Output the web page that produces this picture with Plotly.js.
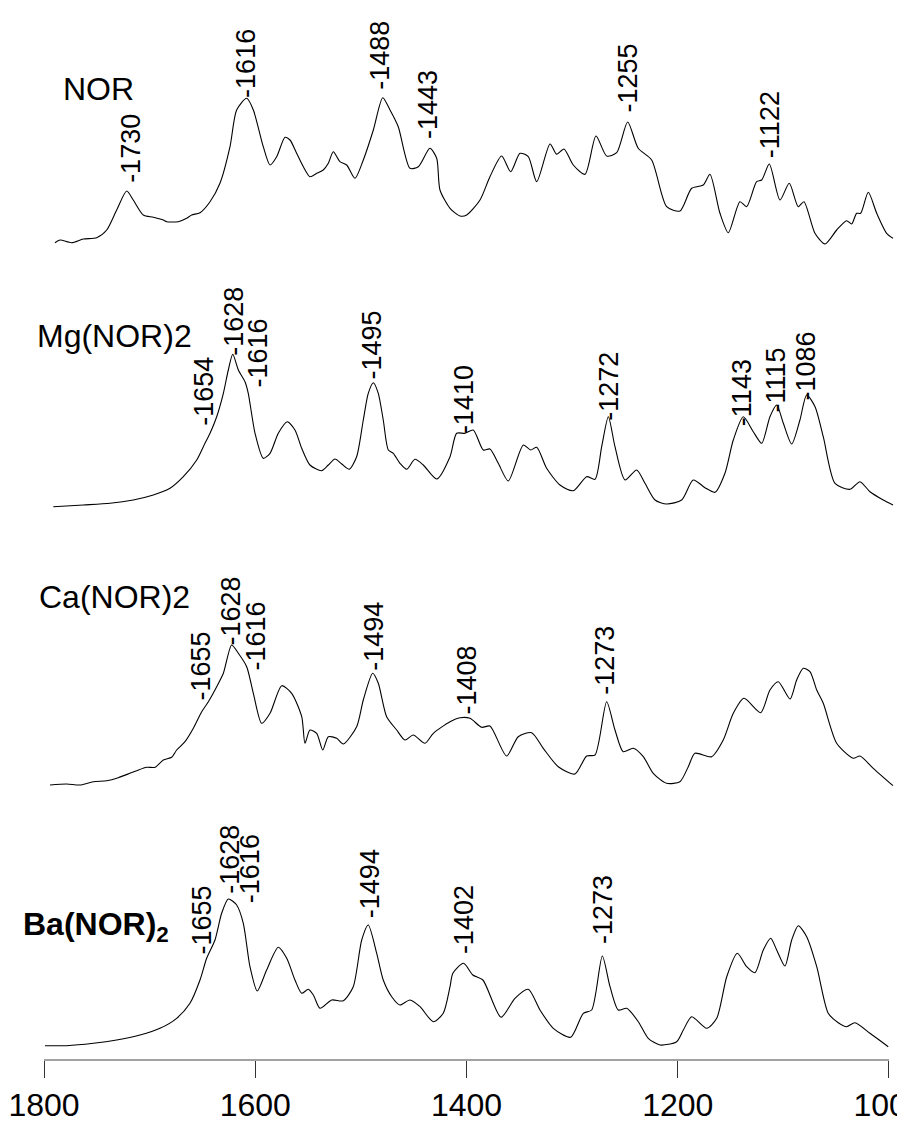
<!DOCTYPE html>
<html>
<head>
<meta charset="utf-8">
<script src="https://cdn.plot.ly/plotly-3.0.1.min.js"></script>
<style>
html,body{margin:0;padding:0;background:#fff;}
#chart{width:897px;height:1127px;}
</style>
</head>
<body>
<div id="chart"></div>
<script>
// ---- Data (wavenumber, cm-1 ; relative intensity, a.u.) ----
const norWn = [1789.6,1784.9,1773.8,1762.8,1750.1,1740.6,1731.2,1721.7,1715.5,1706.0,1696.5,1687.1,1683.9,1672.9,1664.9,1660.2,1652.3,1642.8,1633.4,1623.9,1617.6,1608.1,1601.8,1592.4,1586.0,1579.7,1571.8,1567.1,1560.8,1554.5,1548.2,1541.8,1535.6,1530.8,1526.1,1519.8,1513.4,1505.6,1497.7,1488.2,1479.3,1472.4,1464.6,1453.5,1445.6,1434.6,1428.2,1425.1,1415.6,1406.1,1399.8,1387.2,1377.8,1366.7,1358.2,1349.3,1341.5,1333.5,1320.9,1314.6,1307.7,1298.9,1287.8,1277.4,1267.3,1257.8,1247.4,1237.4,1224.7,1210.5,1197.9,1186.8,1175.8,1169.5,1160.0,1152.1,1141.1,1134.8,1125.3,1120.5,1113.3,1103.2,1094.4,1085.9,1080.5,1070.1,1060.6,1049.5,1040.1,1035.3,1030.6,1026.8,1019.6,1011.6,1002.2,996.2];
const norInt = [2.3,5,2.3,6,7.3,15,35,54,45,30,27.7,25,23.3,23.3,26.7,30,32.3,43.3,61.7,98.3,135,146.7,135,98.3,80,88.3,107.7,105,91.7,78.3,68.3,71.7,75,81.7,93.3,83.3,80,66.7,85,115,147.3,135,118.3,76.7,78.3,96.7,86.7,55,36.7,29,30,45,68.3,89,73.3,91.7,88.3,63.3,101,90.7,96,80,70.7,109,89,92.3,123,96.7,85,38.3,34,56.7,60,70.7,31.7,12.3,43.3,38.3,63.3,65,81,45,61.7,38.3,43.3,11.7,1,15,24.3,21,31.7,31.7,52.7,31.7,11.7,6.7];

const mgWn = [1791.2,1762.8,1737.5,1715.5,1696.5,1680.7,1668.1,1655.4,1647.6,1642.8,1636.5,1630.2,1625.5,1621.3,1616.0,1609.7,1606.6,1600.2,1592.4,1586.0,1578.2,1569.7,1562.4,1556.0,1548.2,1537.1,1530.8,1524.5,1518.1,1511.0,1504.0,1497.7,1493.0,1488.2,1483.5,1478.8,1474.0,1469.3,1463.0,1456.6,1448.8,1440.9,1428.2,1415.6,1409.3,1401.4,1393.6,1384.1,1377.8,1369.9,1360.4,1346.2,1339.2,1333.5,1324.1,1311.5,1298.9,1286.2,1278.3,1272.0,1265.7,1259.4,1249.9,1238.9,1231.0,1221.5,1210.5,1196.3,1185.3,1174.2,1164.7,1155.3,1147.4,1137.9,1128.5,1120.5,1112.7,1106.3,1100.0,1092.1,1084.3,1077.9,1070.0,1062.2,1051.1,1036.9,1027.5,1018.0,1005.4,996.2];
const mgInt = [3.3,5,6.7,10,15,21.7,33.3,50,66.7,76.7,93.3,116.7,140,155.7,140,128.3,116.7,76.7,51.7,56.7,76.7,88.3,80,61.7,45,39.3,45,51,46,40.7,53.3,90,116.7,127.3,116.7,90,60,56.7,46.7,40.7,50.7,45,31,53.3,76.7,76.7,80,60,61,46.7,29,65,60,62.7,41.7,25,19.3,33.3,30.7,63.3,93.3,63.3,30,40,26.7,10,6,10,30,22.3,17.7,36.7,70,93.3,78.3,66.7,93.3,105,86.7,66,90,115,103.3,73.3,26.7,20.7,28.3,18.3,10,5];

const caWn = [1794.3,1778.5,1765.9,1753.3,1740.6,1729.7,1718.6,1712.2,1702.8,1694.9,1687.0,1679.1,1674.4,1666.5,1658.6,1650.7,1644.4,1636.5,1630.2,1622.3,1616.0,1608.1,1601.8,1593.9,1586.0,1574.9,1565.5,1556.0,1552.9,1548.2,1541.8,1536.1,1530.8,1522.9,1516.6,1504.0,1497.7,1488.8,1483.5,1475.6,1466.1,1458.2,1450.4,1439.3,1431.4,1415.6,1406.1,1396.7,1385.6,1377.8,1362.0,1351.0,1338.3,1327.3,1313.1,1297.3,1286.2,1278.3,1267.3,1259.4,1251.6,1242.1,1232.6,1223.2,1210.5,1197.9,1190.0,1183.7,1167.9,1156.9,1147.4,1137.3,1121.5,1112.7,1104.8,1093.7,1087.4,1081.1,1074.8,1068.4,1062.2,1049.5,1033.8,1027.5,1014.9,996.2];
const caInt = [5,6,5,8.3,9.3,12.3,16.7,19.3,22.7,22.7,30,32.7,40,48.3,61.7,78.3,88.3,103.3,116.7,145,136.7,123.3,96.7,66.7,76.7,104.3,96.7,73.3,46.7,60,56.7,40,53.3,51.7,46,63.3,90,116.7,106.7,73.3,60,50,55,46.7,56.7,68.3,72.3,71.7,62.7,64,34,53.3,57.3,41.7,23.3,16,34,35,88.3,60,38.3,41.7,33.3,16.7,6.7,8.3,23.3,36.7,33.3,50,76.7,91.7,77.3,100,108.3,91,110,121.7,118.3,100,86.7,46.7,31.7,34,21.7,4.3];

const baWn = [1799.1,1778.5,1753.3,1731.2,1709.1,1690.2,1674.4,1661.8,1652.3,1646.0,1638.1,1631.8,1625.5,1617.6,1611.3,1605.0,1598.1,1589.2,1578.2,1570.2,1562.4,1556.0,1549.8,1545.0,1538.7,1527.6,1516.6,1507.2,1499.2,1493.0,1485.0,1478.8,1470.8,1463.0,1453.5,1444.0,1431.4,1422.0,1415.6,1412.9,1402.8,1394.0,1384.5,1367.3,1354.1,1341.5,1330.4,1317.8,1301.4,1289.4,1281.5,1271.4,1264.1,1256.3,1248.3,1237.3,1227.9,1216.8,1201.0,1194.7,1186.8,1172.6,1163.1,1153.6,1143.6,1134.7,1126.9,1119.0,1112.0,1106.3,1098.5,1092.1,1085.9,1077.9,1068.4,1057.5,1048.0,1040.1,1032.2,1018.0,1000.7];
const baInt = [4.3,4.3,6.7,10,15,21.7,31.7,46.7,70,91.7,110,136.7,151,145,126.7,83.3,59,80,102.7,91.7,70,56.7,60.7,55,41.7,50,49.3,63.3,110,125,96.7,70,53.3,45,50,43.3,28.3,36.7,63.3,76.7,86.7,75,70,32.7,51.7,60.7,40,21.7,12.7,36.7,40,94,63.3,40,41.7,28.3,11.7,5,8.3,20,33.3,21.7,31.7,73.3,96.7,83.3,77.3,100,111.7,100,84,110,124.3,113.3,83.3,36.7,27.3,23.3,27.3,16.7,3.3];

// Peak labels: text, wavenumber where drawn, height above the spectrum baseline
const norPeakText = ["-1730","-1616","-1488","-1443","-1255","-1122"];
const norPeakWn   = [1717.0,1608.1,1481.9,1436.2,1246.8,1112.7];
const norPeakH    = [63.3,148.3,156.7,106.7,133.3,88.3];

const mgPeakText = ["-1654","-1628","-1616","-1495","-1410","-1272","-1143","-1115","-1086"];
const mgPeakWn   = [1649.2,1620.8,1597.1,1489.8,1403.0,1265.8,1139.5,1107.9,1079.5];
const mgPeakH    = [85,155,123.3,131.7,76.7,90,85,98,110];

const caPeakText = ["-1655","-1628","-1616","-1494","-1408","-1273"];
const caPeakWn   = [1652.3,1623.9,1600.2,1488.2,1399.8,1268.9];
const caPeakH    = [90,145,120,120,76.7,96.7];

const baPeakText = ["-1655","-1628","-1616","-1494","-1402","-1273"];
const baPeakWn   = [1650.7,1623.9,1605.0,1491.4,1403.0,1270.5];
const baPeakH    = [96.7,156.7,148.3,133.3,96.7,106.7];

const sampleNames = ["NOR","Mg(NOR)2","Ca(NOR)2","<b>Ba(NOR)<sub>2</sub></b>"];
const xTicks = [1800,1600,1400,1200,1000];

// ---- Layout helpers (stacking offsets, label placement) ----
const offsets = [815, 550, 270, 10];
const nameX   = [0.0200, -0.0106, -0.0082, -0.0270]; // paper fraction, left edge
const nameH   = [156, 174.5, 193.5, 124];

const FONT = "Arial, 'Liberation Sans', sans-serif";
const spectra = [
  {wn: norWn, v: norInt, pt: norPeakText, pw: norPeakWn, ph: norPeakH},
  {wn: mgWn,  v: mgInt,  pt: mgPeakText,  pw: mgPeakWn,  ph: mgPeakH},
  {wn: caWn,  v: caInt,  pt: caPeakText,  pw: caPeakWn,  ph: caPeakH},
  {wn: baWn,  v: baInt,  pt: baPeakText,  pw: baPeakWn,  ph: baPeakH}
];

const traces = [];
const annotations = [];
spectra.forEach((s, i) => {
  traces.push({
    type: 'scatter', mode: 'lines',
    x: s.wn, y: s.v.map(v => v + offsets[i]),
    line: {color: '#000', width: 1.1, shape: 'spline', smoothing: 0.7},
    hoverinfo: 'skip'
  });
  s.pt.forEach((t, j) => {
    annotations.push({
      x: s.pw[j], y: s.ph[j] + offsets[i] - 3, xref: 'x', yref: 'y',
      text: t, textangle: -90, showarrow: false,
      xanchor: 'center', yanchor: 'bottom',
      font: {family: FONT, size: 27, color: '#000'}
    });
  });
  annotations.push({
    x: nameX[i], y: nameH[i] + offsets[i], xref: 'paper', yref: 'y',
    text: sampleNames[i], showarrow: false,
    xanchor: 'left', yanchor: 'middle',
    font: {family: FONT, size: 32, color: '#000'}
  });
});

const layout = {
  width: 897, height: 1127,
  margin: {l: 44, r: 0, t: 0, b: 67},
  paper_bgcolor: '#fff', plot_bgcolor: '#fff',
  showlegend: false,
  xaxis: {
    range: [1800, 992.4],
    tickmode: 'array', tickvals: xTicks, ticktext: xTicks.map(String),
    ticks: 'outside', ticklen: 17, tickwidth: 1, tickcolor: '#333',
    ticklabeloverflow: 'allow',
    showline: false, showgrid: false, zeroline: false,
    tickfont: {family: FONT, size: 32, color: '#000'}
  },
  yaxis: {range: [0, 1060], visible: false, fixedrange: true},
  shapes: [{
    type: 'line', xref: 'x', yref: 'paper',
    x0: 1800, x1: 1000, y0: 0, y1: 0,
    line: {color: '#444', width: 1}
  }],
  annotations: annotations
};

Plotly.newPlot('chart', traces, layout, {staticPlot: true, displayModeBar: false});
</script>
</body>
</html>
